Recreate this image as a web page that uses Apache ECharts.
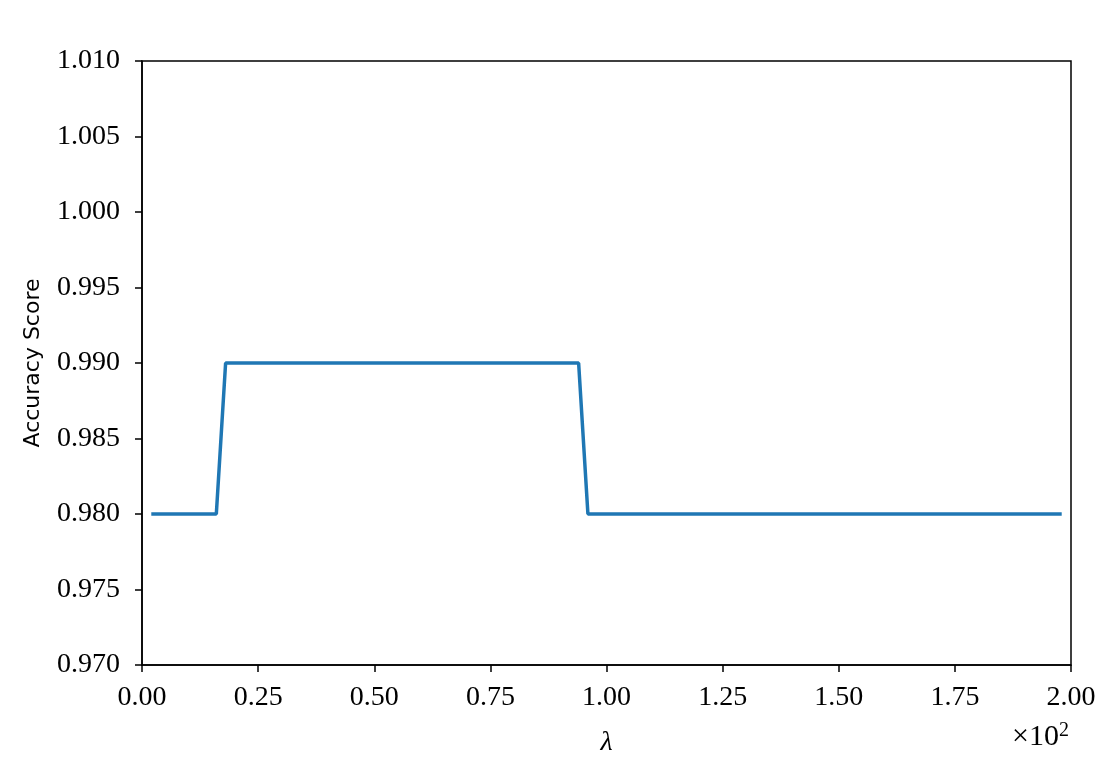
<!DOCTYPE html>
<html>
<head>
    <meta charset="utf-8">
    <title>Accuracy Score</title>
    <script src="https://cdn.jsdelivr.net/npm/echarts@6/dist/echarts.min.js"></script>
    <style>
        html, body { margin: 0; padding: 0; background: #fff; }
    </style>
</head>
<body>
<div id="main" style="width:1116px;height:772px"></div>
<script type="text/javascript">
// lambda values, in units of 10^2
var lambdaVals = [0.02, 0.16, 0.18, 0.94, 0.96, 1.98];
var accVals    = [0.98, 0.98, 0.99, 0.99, 0.98, 0.98];

var serifFont = 'Liberation Serif';
var lineData = lambdaVals.map(function(x, i){ return [x, accVals[i]]; });

var myChart = echarts.init(document.getElementById('main'));
var option = {
    backgroundColor: '#fff',
    animation: false,
    grid: {
        left: 142, right: 45, top: 61, bottom: 107,
        show: true, borderColor: '#000', borderWidth: 1.5
    },
    xAxis: {
        type: 'value',
        min: 0, max: 2, interval: 0.25,
        name: 'λ',
        nameLocation: 'middle',
        nameGap: 64,
        nameTextStyle: { fontFamily: serifFont, fontStyle: 'italic', fontSize: 28, color: '#000' },
        axisLine: { show: true, lineStyle: { color: '#000', width: 1.5 } },
        axisTick: { show: true, length: 7, lineStyle: { color: '#000', width: 1.5 } },
        splitLine: { show: false },
        axisLabel: {
            margin: 19,
            fontFamily: serifFont, fontSize: 28, color: '#000',
            formatter: function(v){ return v.toFixed(2); }
        }
    },
    yAxis: {
        type: 'value',
        min: 0.97, max: 1.01, interval: 0.005,
        name: 'Accuracy Score',
        nameLocation: 'middle',
        nameGap: 98,
        nameTextStyle: { fontFamily: 'DejaVu Sans', fontSize: 22, color: '#000' },
        axisLine: { show: true, lineStyle: { color: '#000', width: 1.5 } },
        axisTick: { show: true, length: 7, lineStyle: { color: '#000', width: 1.5 } },
        splitLine: { show: false },
        axisLabel: {
            margin: 22,
            fontFamily: serifFont, fontSize: 28, color: '#000',
            formatter: function(v){ return v.toFixed(3); }
        }
    },
    graphic: [{
        type: 'text',
        right: 47,
        top: 721,
        style: {
            text: '×10{s|2}',
            rich: { s: { fontFamily: serifFont, fontSize: 20, verticalAlign: 'top', padding: [0, 0, 12, 0] } },
            fontFamily: serifFont, fontSize: 30, fill: '#000'
        }
    }],
    series: [{
        type: 'line',
        data: lineData,
        showSymbol: false,
        lineStyle: { color: '#1f77b4', width: 3.5 },
        itemStyle: { color: '#1f77b4' }
    }]
};
myChart.setOption(option);
</script>
</body>
</html>
